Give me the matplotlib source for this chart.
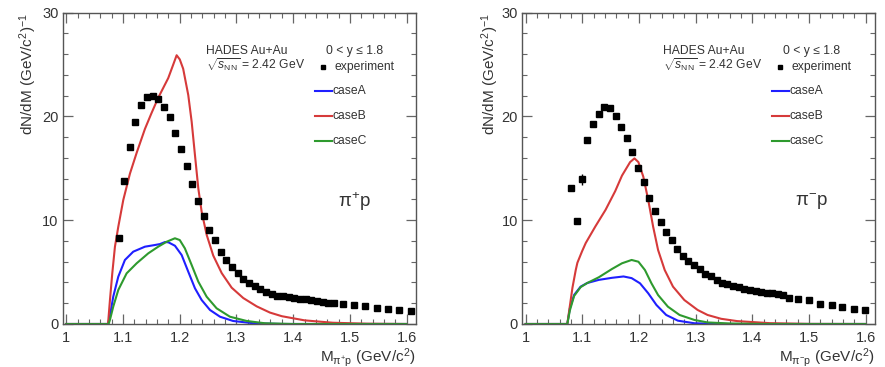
import matplotlib
matplotlib.use("Agg")
import matplotlib.pyplot as plt
import matplotlib.ticker as mtick
from matplotlib import font_manager as fm

# keep the regular-width Liberation Sans (drop the Narrow cut if present)
fm.fontManager.ttflist = [f for f in fm.fontManager.ttflist if "Narrow" not in f.fname]

plt.rcParams.update({
    "font.family": ["Liberation Sans", "DejaVu Sans"],
    "mathtext.fontset": "custom",
    "mathtext.rm": "Liberation Sans",
    "mathtext.it": "Liberation Sans:italic",
    "mathtext.sf": "Liberation Sans",
})

# -----------------------------
# pi+ p spectrum
# -----------------------------
pip_exp_m = [1.092, 1.102, 1.112, 1.121, 1.132, 1.142, 1.152, 1.162, 1.172, 1.182,
             1.192, 1.202, 1.212, 1.222, 1.232, 1.242, 1.252, 1.262, 1.272, 1.282,
             1.292, 1.302, 1.312, 1.322, 1.332, 1.342, 1.352, 1.362, 1.372, 1.382,
             1.392, 1.402, 1.412, 1.422, 1.432, 1.442, 1.452, 1.462, 1.472, 1.487,
             1.507, 1.527, 1.547, 1.567, 1.587, 1.608]
pip_exp_y = [8.27, 13.81, 17.08, 19.46, 21.15, 21.86, 22.02, 21.70, 20.96, 19.94,
             18.40, 16.86, 15.22, 13.49, 11.89, 10.42, 9.07, 8.08, 6.96, 6.19,
             5.54, 4.87, 4.33, 3.97, 3.69, 3.40, 3.11, 2.88, 2.72, 2.69,
             2.60, 2.53, 2.37, 2.44, 2.31, 2.18, 2.12, 2.05, 2.02, 1.92,
             1.79, 1.70, 1.57, 1.44, 1.38, 1.22]

pip_caseA_m = [1.0, 1.0735, 1.0769, 1.0827, 1.0916, 1.1033, 1.118, 1.1386, 1.156, 1.165,
               1.174, 1.180, 1.1915, 1.2033, 1.215, 1.2268, 1.2386, 1.2533, 1.271, 1.294,
               1.330, 1.380, 1.600]
pip_caseA_y = [0.0, 0.0, 0.8, 2.63, 4.56, 6.17, 6.97, 7.45, 7.61, 7.70,
               7.90, 7.87, 7.54, 6.65, 5.04, 3.44, 2.31, 1.35, 0.70, 0.29,
               0.07, 0.0, 0.0]

pip_caseB_m = [1.0, 1.0735, 1.0769, 1.081, 1.0857, 1.0916, 1.1004, 1.1122, 1.124, 1.1386,
               1.150, 1.162, 1.1797, 1.1885, 1.1945, 1.200, 1.206, 1.215, 1.221, 1.2268,
               1.2327, 1.2386, 1.2474, 1.259, 1.274, 1.2915, 1.312, 1.3356, 1.359, 1.380,
               1.420, 1.470, 1.530, 1.600]
pip_caseB_y = [0.0, 0.0, 2.31, 4.88, 7.45, 9.37, 11.95, 14.5, 16.5, 18.8,
               20.3, 21.8, 23.7, 25.0, 25.9, 25.5, 24.6, 22.06, 19.49, 16.28,
               13.07, 10.82, 8.6, 6.6, 4.9, 3.5, 2.5, 1.7, 1.1, 0.75,
               0.35, 0.12, 0.03, 0.0]

pip_caseC_m = [1.0, 1.0745, 1.0769, 1.0827, 1.0916, 1.1063, 1.124, 1.1445, 1.162, 1.177,
               1.1915, 1.200, 1.209, 1.221, 1.2327, 1.2474, 1.265, 1.2885, 1.318, 1.350,
               1.400, 1.600]
pip_caseC_y = [0.0, 0.0, 0.4, 1.67, 3.28, 4.88, 5.85, 6.81, 7.45, 7.93,
               8.26, 8.09, 7.29, 5.68, 4.08, 2.63, 1.51, 0.70, 0.29, 0.07,
               0.0, 0.0]

# -----------------------------
# pi- p spectrum
# -----------------------------
pim_exp_m = [1.080, 1.090, 1.099, 1.109, 1.119, 1.129, 1.139, 1.149, 1.159, 1.169,
             1.178, 1.188, 1.198, 1.208, 1.218, 1.228, 1.238, 1.248, 1.258, 1.267,
             1.277, 1.287, 1.297, 1.307, 1.317, 1.327, 1.337, 1.347, 1.356, 1.366,
             1.376, 1.386, 1.396, 1.406, 1.416, 1.426, 1.435, 1.445, 1.455, 1.465,
             1.480, 1.500, 1.520, 1.540, 1.559, 1.580, 1.599]
pim_exp_y = [13.09, 9.94, 13.95, 17.75, 19.32, 20.22, 20.87, 20.77, 20.00, 19.00,
             17.94, 16.62, 15.00, 13.67, 12.19, 10.93, 9.81, 8.84, 8.14, 7.23,
             6.59, 6.08, 5.66, 5.31, 4.82, 4.60, 4.21, 3.99, 3.83, 3.70,
             3.54, 3.41, 3.31, 3.22, 3.09, 2.96, 2.96, 2.89, 2.77, 2.48,
             2.41, 2.32, 1.96, 1.80, 1.61, 1.48, 1.32]
pim_exp_err = [0.2, 0.2, 0.55, 0.2, 0.15, 0.15, 0.15, 0.15, 0.15, 0.15,
               0.1, 0.1, 0.1, 0.1, 0.1, 0.1, 0.1, 0.1, 0.1, 0.1,
               0.1, 0.1, 0.1, 0.1, 0.1, 0.1, 0.1, 0.1, 0.1, 0.1,
               0.1, 0.1, 0.1, 0.1, 0.1, 0.1, 0.1, 0.1, 0.1, 0.1,
               0.1, 0.1, 0.1, 0.1, 0.1, 0.1, 0.1]

pim_caseA_m = [1.0, 1.0735, 1.078, 1.0855, 1.097, 1.1087, 1.129, 1.1523, 1.1727, 1.187,
               1.2018, 1.2163, 1.2308, 1.248, 1.2686, 1.2977, 1.350, 1.600]
pim_caseA_y = [0.0, 0.0, 1.5, 2.8, 3.6, 3.95, 4.25, 4.45, 4.58, 4.42,
               3.92, 2.96, 1.83, 0.87, 0.32, 0.07, 0.0, 0.0]

pim_caseB_m = [1.0, 1.0735, 1.0826, 1.0884, 1.0913, 1.0995, 1.106, 1.123, 1.141, 1.158,
               1.170, 1.1843, 1.192, 1.199, 1.2076, 1.2163, 1.225, 1.2337, 1.2454, 1.260,
               1.280, 1.3035, 1.321, 1.345, 1.373, 1.431, 1.500, 1.600]
pim_caseB_y = [0.0, 0.0, 3.5, 5.2, 5.9, 7.0, 7.8, 9.4, 11.0, 12.8,
               14.3, 15.6, 15.96, 15.6, 14.2, 11.95, 9.37, 7.13, 5.2, 3.6,
               2.31, 1.35, 0.87, 0.5, 0.28, 0.08, 0.01, 0.0]

pim_caseC_m = [1.0, 1.0735, 1.078, 1.0855, 1.097, 1.1087, 1.129, 1.1523, 1.170, 1.187,
               1.199, 1.2105, 1.222, 1.2337, 1.251, 1.2716, 1.2977, 1.321, 1.360, 1.420,
               1.600]
pim_caseC_y = [0.0, 0.0, 1.3, 2.7, 3.55, 3.95, 4.5, 5.3, 5.85, 6.17,
               6.0, 5.2, 3.92, 2.79, 1.67, 0.87, 0.39, 0.15, 0.05, 0.0,
               0.0]

case_colors = {"caseA": "#1f1fff", "caseB": "#d63a3a", "caseC": "#2e9a2e"}
text_color = "#333333"


def _style_axes(ax):
    """Boxed frame, inward ticks on all four sides."""
    ax.set_xlim(0.9935, 1.6165)
    ax.set_ylim(0, 30)
    for sp in ax.spines.values():
        sp.set_color("#555555")
        sp.set_linewidth(1.0)
    ax.xaxis.set_major_locator(mtick.MultipleLocator(0.1))
    ax.xaxis.set_minor_locator(mtick.MultipleLocator(0.02))
    ax.yaxis.set_major_locator(mtick.MultipleLocator(10))
    ax.yaxis.set_minor_locator(mtick.MultipleLocator(2))
    ax.xaxis.set_major_formatter(mtick.FuncFormatter(lambda v, p: f"{v:g}"))
    ax.tick_params(which="both", direction="in", top=True, right=True,
                   colors="#666666", labelcolor=text_color, labelsize=10.5)
    ax.tick_params(which="major", length=7, width=0.9, pad=3)
    ax.tick_params(which="minor", length=3.5, width=0.8)
    ax.tick_params(axis="x", which="major", pad=5)


def panel(ax, exp_m, exp_y, exp_err, curves, pair_label, x_lo, mass_sub, ylab_x):
    _style_axes(ax)

    for name, (m, y) in curves.items():
        ax.plot(m, y, color=case_colors[name], lw=1.5, zorder=2,
                solid_joinstyle="round")

    if exp_err is None:
        ax.plot(exp_m, exp_y, ls="none", marker="s", ms=4, color="black", zorder=3)
    else:
        ax.errorbar(exp_m, exp_y, yerr=exp_err, fmt="s", ms=4, color="black",
                    elinewidth=1.0, capsize=0, zorder=3)

    # header text
    fs = 8.7
    ax.text(x_lo, 26.3, "HADES Au+Au", fontsize=fs, color=text_color,
            ha="left", va="center")
    ax.text(x_lo, 25.0, r"$\sqrt{s_{\mathrm{NN}}}$ = 2.42 GeV", fontsize=fs,
            color=text_color, ha="left", va="center")
    ax.text(x_lo + 0.262, 26.3, "0 < y ≤ 1.8", fontsize=fs, color=text_color,
            ha="center", va="center")

    # key
    kx = x_lo + 0.192
    ax.plot([kx + 0.014], [24.73], ls="none", marker="s", ms=3.2, color="black")
    ax.text(kx + 0.035, 24.73, "experiment", fontsize=fs, color=text_color,
            ha="left", va="center")
    for i, name in enumerate(["caseA", "caseB", "caseC"]):
        yk = 22.45 - 2.41 * i
        ax.plot([kx, kx + 0.03], [yk, yk], color=case_colors[name], lw=1.5)
        ax.text(kx + 0.032, yk, name, fontsize=fs, color=text_color,
                ha="left", va="center")

    ax.text(x_lo + 0.262, 11.8, pair_label, fontsize=13.5, color=text_color,
            ha="center", va="center")

    ax.set_ylabel(r"dN/dM (GeV/c$^{2}$)$^{-1}$", fontsize=11, color=text_color,
                  loc="top")
    ax.yaxis.label.set_va("center")
    ax.yaxis.set_label_coords(ylab_x, 1.0)
    ax.set_xlabel(r"M$_{\mathrm{π}^{%s}\mathrm{p}}$ (GeV/c$^{2}$)" % mass_sub,
                  fontsize=11, color=text_color, loc="right")
    ax.xaxis.set_label_coords(1.0, -0.07)


fig = plt.figure(figsize=(8.85, 3.67), dpi=100)
ax_l = fig.add_axes([0.0708, 0.1172, 0.3992, 0.8482])
ax_r = fig.add_axes([0.5898, 0.1172, 0.3989, 0.8482])

panel(ax_l, pip_exp_m, pip_exp_y, None,
      {"caseA": (pip_caseA_m, pip_caseA_y),
       "caseB": (pip_caseB_m, pip_caseB_y),
       "caseC": (pip_caseC_m, pip_caseC_y)},
      "π$^{+}$p", 1.246, "+", -0.098)

panel(ax_r, pim_exp_m, pim_exp_y, pim_exp_err,
      {"caseA": (pim_caseA_m, pim_caseA_y),
       "caseB": (pim_caseB_m, pim_caseB_y),
       "caseC": (pim_caseC_m, pim_caseC_y)},
      "π$^{-}$p", 1.2424, "-", -0.09)

fig.savefig("out.png", dpi=100, facecolor="white")
